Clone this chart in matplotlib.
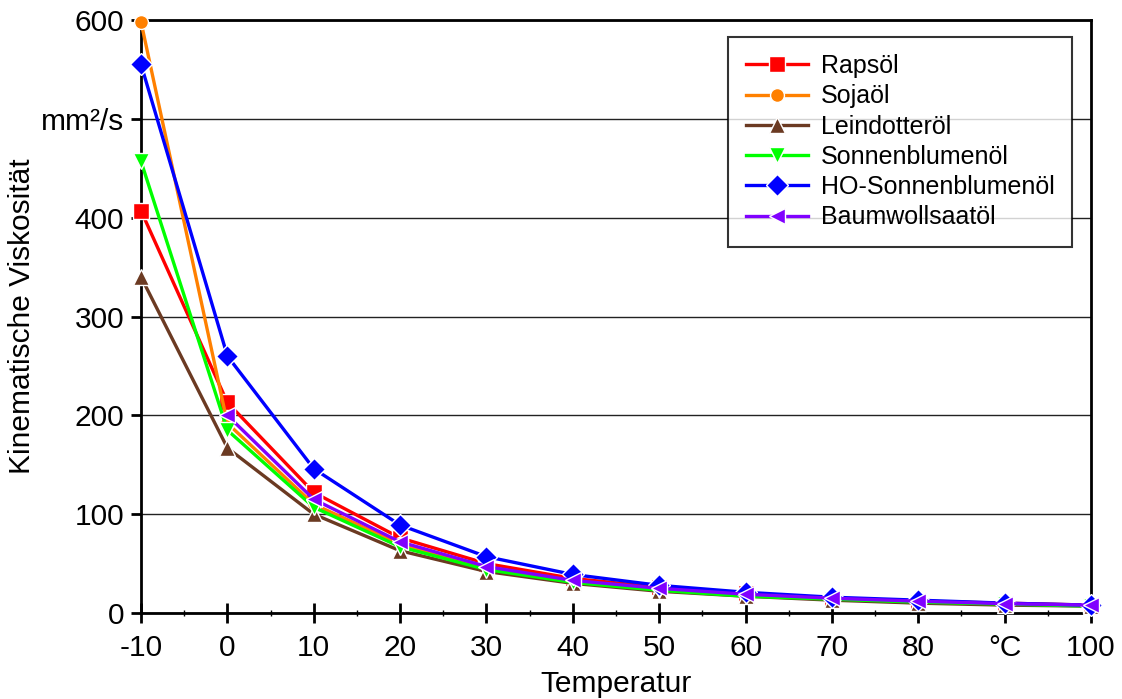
import numpy as np
import matplotlib; matplotlib.use("Agg")
import matplotlib.pyplot as plt
from matplotlib.ticker import MultipleLocator

plt.rcParams["font.family"] = ["Liberation Sans", "DejaVu Sans"]

# temperature in degC
temps = [-10, 0, 10, 20, 30, 40, 50, 60, 70, 80, 90, 100]
# kinematic viscosity, mm²/s
rapsoel       = [407, 213, 122, 76, 50, 35, 26, 20, 15, 12, 10, 8]
sojaoel       = [598, 192, 110, 70, 46, 32, 24, 18, 14, 11, 9, 7.5]
leindotteroel = [340, 167, 100, 63, 42, 30, 22, 17, 13, 10, 8, 7]
sonnenblumen  = [457, 185, 107, 67, 44, 31, 23, 17, 14, 11, 9, 7]
ho_sonnenbl   = [555, 260, 146, 89, 57, 39, 28, 21, 16, 13, 10, 8]
baumwoll_t    = temps[1:]
baumwollsaat  = [200, 115, 72, 47, 33, 25, 19, 15, 12, 9.5, 8]

series = [
    ("Rapsöl",            temps,      rapsoel,       "#ff0000", "s"),
    ("Sojaöl",            temps,      sojaoel,       "#ff8000", "o"),
    ("Leindotteröl",      temps,      leindotteroel, "#6b3a22", "^"),
    ("Sonnenblumenöl",    temps,      sonnenblumen,  "#00ff00", "v"),
    ("HO-Sonnenblumenöl", temps,      ho_sonnenbl,   "#0000ff", "D"),
    ("Baumwollsaatöl",    baumwoll_t, baumwollsaat,  "#8000ff", "<"),
]
xticklabels = ["-10", "0", "10", "20", "30", "40", "50", "60", "70", "80", "°C", "100"]
yticklabels = ["0", "100", "200", "300", "400", "mm²/s", "600"]

fig = plt.figure(figsize=(11.22, 6.99), dpi=100)
ax = fig.add_axes([0.1257, 0.123, 0.8467, 0.8484])

for name, x, y, col, mk in series:
    ax.plot(x, y, "-", color=col, lw=2.4, marker=mk, ms=11 if mk != "o" else 10,
            mfc=col, mec="white", mew=1.0, label=name, clip_on=False, zorder=3)

ax.set_xlim(-10, 100); ax.set_ylim(0, 600)
ax.set_xticks(temps); ax.set_xticklabels(xticklabels)
ax.xaxis.set_minor_locator(MultipleLocator(5))
ax.set_yticks(range(0, 601, 100)); ax.set_yticklabels(yticklabels)
ax.yaxis.grid(True, color="#222222", lw=1.0); ax.set_axisbelow(True)
ax.tick_params(axis="x", which="major", direction="inout", length=14, width=2, labelsize=21.5, pad=8)
ax.tick_params(axis="x", which="minor", direction="inout", length=4, width=1)
ax.tick_params(axis="y", which="major", direction="out", length=7, width=2, labelsize=21.5, pad=5)
for s in ax.spines.values(): s.set_linewidth(2)

ax.set_xlabel("Temperatur", fontsize=21.5, labelpad=6)
ax.set_ylabel("Kinematische Viskosität", fontsize=21.5, labelpad=4)

leg = ax.legend(loc="upper right", bbox_to_anchor=(0.98, 0.972), fontsize=18, frameon=True,
                fancybox=False, edgecolor="black", handlelength=2.5, borderpad=0.7,
                labelspacing=0.25, handletextpad=0.5, borderaxespad=0)
leg.get_frame().set_linewidth(1.5)

fig.savefig("out.png", dpi=100)
